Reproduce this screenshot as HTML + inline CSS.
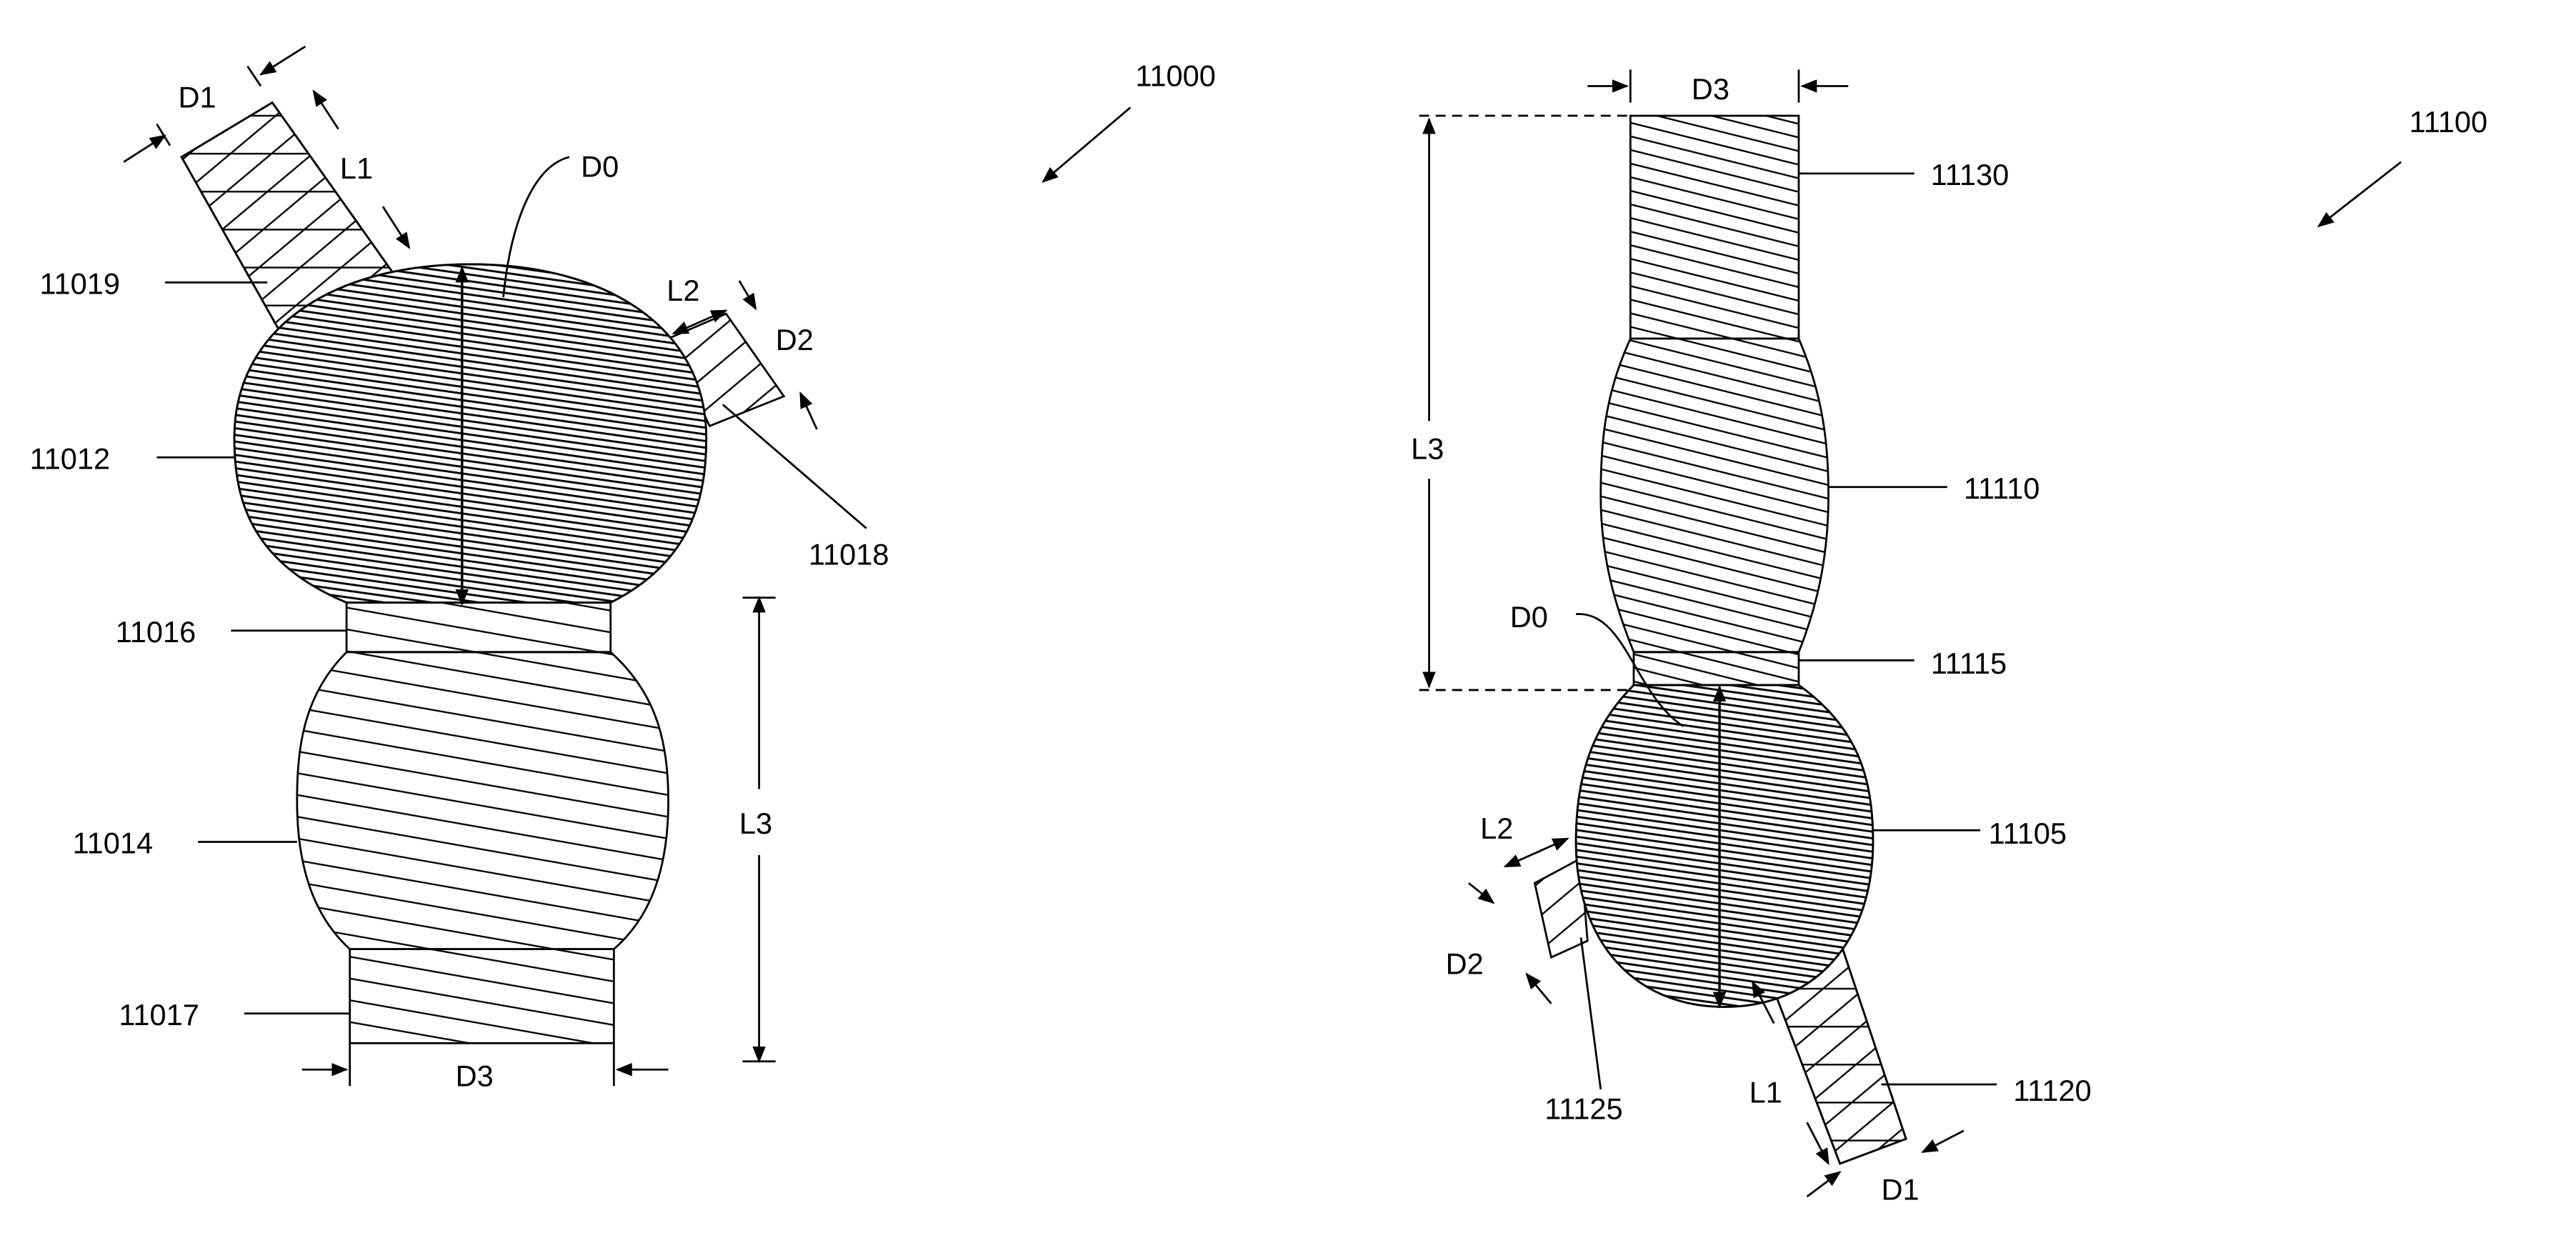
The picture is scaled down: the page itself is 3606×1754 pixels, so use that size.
<!DOCTYPE html>
<html><head><meta charset="utf-8"><style>html,body{margin:0;padding:0;background:#fff}svg{display:block}text{font-family:"Liberation Sans",sans-serif;font-size:18px;fill:#000}</style></head><body>
<svg width="3606" height="1754" viewBox="0 0 1561 759" xmlns="http://www.w3.org/2000/svg">
<defs>
<pattern id="hd" width="40" height="4" patternUnits="userSpaceOnUse" patternTransform="rotate(8)"><line x1="0" y1="1" x2="40" y2="1" stroke="#000" stroke-width="1.3"/></pattern>
<pattern id="hm" width="40" height="13" patternUnits="userSpaceOnUse" patternTransform="rotate(10)"><line x1="0" y1="1" x2="40" y2="1" stroke="#000" stroke-width="1"/></pattern>
<pattern id="hr" width="40" height="8" patternUnits="userSpaceOnUse" patternTransform="rotate(14)"><line x1="0" y1="1" x2="40" y2="1" stroke="#000" stroke-width="1"/></pattern>
<pattern id="ht" width="40" height="16" patternUnits="userSpaceOnUse" patternTransform="rotate(-40)"><line x1="0" y1="1" x2="40" y2="1" stroke="#000" stroke-width="1"/></pattern>
<pattern id="hh" width="40" height="23" patternUnits="userSpaceOnUse"><line x1="0" y1="1" x2="40" y2="1" stroke="#000" stroke-width="1"/></pattern>
<marker id="a" markerWidth="10" markerHeight="8" refX="9" refY="4" orient="auto" markerUnits="userSpaceOnUse"><path d="M0,0L10,4L0,8z" fill="#000"/></marker>
<marker id="s" markerWidth="10" markerHeight="8" refX="1" refY="4" orient="auto" markerUnits="userSpaceOnUse"><path d="M10,0L0,4L10,8z" fill="#000"/></marker>
</defs>
<g stroke="#000" stroke-width="1.2" fill="none">
<!-- LEFT -->
<polygon points="110,95 165,62 238,165 172,205" fill="url(#ht)"/>
<polygon points="110,95 165,62 238,165 172,205" fill="url(#hh)"/>
<polygon points="405,205 440,190 475,240 430,258" fill="url(#ht)"/>
<path d="M210,365 C150,340 142,300 142,265 C142,200 200,160 285,160 C370,160 428,200 428,265 C428,300 420,340 370,365 Z" fill="#fff"/>
<path d="M210,365 C150,340 142,300 142,265 C142,200 200,160 285,160 C370,160 428,200 428,265 C428,300 420,340 370,365 Z" fill="url(#hd)"/>
<rect x="210" y="365" width="160" height="30" fill="url(#hm)"/>
<path d="M210,395 C185,420 180,450 180,485 C180,525 190,555 212,575 L372,575 C395,555 405,525 405,485 C405,450 398,420 370,395 Z" fill="url(#hm)"/>
<rect x="212" y="575" width="160" height="57" fill="url(#hm)"/>
<line x1="280" y1="162" x2="280" y2="366" marker-start="url(#s)" marker-end="url(#a)" stroke-width="1.5"/>
<path d="M305,180 C310,130 325,100 345,95"/>
<line x1="460" y1="362" x2="460" y2="478" marker-start="url(#s)"/>
<line x1="460" y1="518" x2="460" y2="643" marker-end="url(#a)"/>
<line x1="450" y1="362" x2="470" y2="362"/><line x1="450" y1="643" x2="470" y2="643"/>
<line x1="212" y1="632" x2="212" y2="658"/><line x1="372" y1="632" x2="372" y2="658"/>
<line x1="183" y1="648" x2="210" y2="648" marker-end="url(#a)"/><line x1="405" y1="648" x2="374" y2="648" marker-end="url(#a)"/>
<line x1="75" y1="98" x2="100" y2="82" marker-end="url(#a)"/><line x1="95" y1="75" x2="103" y2="88"/>
<line x1="185" y1="28" x2="158" y2="45" marker-end="url(#a)"/><line x1="150" y1="40" x2="158" y2="52"/>
<line x1="205" y1="78" x2="190" y2="55" marker-end="url(#a)"/>
<line x1="232" y1="125" x2="248" y2="150" marker-end="url(#a)"/>
<line x1="408" y1="202" x2="440" y2="188" marker-start="url(#s)" marker-end="url(#a)"/>
<line x1="448" y1="170" x2="458" y2="187" marker-end="url(#a)"/>
<line x1="495" y1="260" x2="485" y2="238" marker-end="url(#a)"/>
<line x1="438" y1="245" x2="525" y2="320"/>
<line x1="100" y1="171" x2="162" y2="171"/><line x1="95" y1="277" x2="142" y2="277"/>
<line x1="140" y1="382" x2="210" y2="382"/><line x1="120" y1="510" x2="180" y2="510"/>
<line x1="148" y1="614" x2="212" y2="614"/>
<line x1="685" y1="65" x2="632" y2="110" marker-end="url(#a)"/>
<!-- RIGHT -->
<polygon points="1075,600 1115,570 1155,690 1115,705" fill="url(#ht)"/>
<polygon points="1075,600 1115,570 1155,690 1115,705" fill="url(#hh)"/>
<polygon points="930,535 958,520 962,570 940,580" fill="url(#ht)"/>
<rect x="988" y="70" width="102" height="135" fill="url(#hr)"/>
<path d="M988,205 C972,240 970,270 970,300 C970,340 980,370 990,395 L1090,395 C1100,370 1108,340 1108,300 C1108,270 1105,240 1090,205 Z" fill="url(#hr)"/>
<rect x="990" y="395" width="100" height="20" fill="url(#hr)"/>
<path d="M990,415 C965,440 955,470 955,510 C955,570 990,610 1045,610 C1100,610 1135,570 1135,510 C1135,470 1125,440 1090,415 Z" fill="#fff"/>
<path d="M990,415 C965,440 955,470 955,510 C955,570 990,610 1045,610 C1100,610 1135,570 1135,510 C1135,470 1125,440 1090,415 Z" fill="url(#hd)"/>
<line x1="860" y1="70" x2="988" y2="70" stroke-dasharray="6,4"/>
<line x1="860" y1="418" x2="990" y2="418" stroke-dasharray="6,4"/>
<line x1="866" y1="72" x2="866" y2="255" marker-start="url(#s)"/>
<line x1="866" y1="290" x2="866" y2="416" marker-end="url(#a)"/>
<line x1="1042" y1="416" x2="1042" y2="610" marker-start="url(#s)" marker-end="url(#a)" stroke-width="1.5"/>
<path d="M955,372 C985,370 990,420 1020,440"/>
<line x1="962" y1="52" x2="986" y2="52" marker-end="url(#a)"/><line x1="988" y1="42" x2="988" y2="62"/>
<line x1="1120" y1="52" x2="1092" y2="52" marker-end="url(#a)"/><line x1="1090" y1="42" x2="1090" y2="62"/>
<line x1="1090" y1="105" x2="1160" y2="105"/><line x1="1108" y1="295" x2="1180" y2="295"/>
<line x1="1090" y1="400" x2="1160" y2="400"/><line x1="1135" y1="503" x2="1200" y2="503"/>
<line x1="1140" y1="657" x2="1210" y2="657"/>
<line x1="958" y1="568" x2="970" y2="660"/>
<line x1="912" y1="525" x2="950" y2="508" marker-start="url(#s)" marker-end="url(#a)"/>
<line x1="890" y1="535" x2="905" y2="547" marker-end="url(#a)"/>
<line x1="925" y1="590" x2="940" y2="608" marker-start="url(#s)"/>
<line x1="1075" y1="620" x2="1062" y2="595" marker-end="url(#a)"/>
<line x1="1095" y1="680" x2="1108" y2="705" marker-end="url(#a)"/>
<line x1="1095" y1="725" x2="1115" y2="710" marker-end="url(#a)"/>
<line x1="1190" y1="685" x2="1165" y2="698" marker-end="url(#a)"/>
<line x1="1455" y1="98" x2="1405" y2="137" marker-end="url(#a)"/>
</g>
<text x="108" y="65">D1</text><text x="206" y="108">L1</text><text x="352" y="107">D0</text>
<text x="24" y="178">11019</text><text x="18" y="284">11012</text><text x="404" y="182">L2</text>
<text x="470" y="212">D2</text><text x="490" y="342">11018</text><text x="70" y="389">11016</text>
<text x="44" y="517">11014</text><text x="72" y="621">11017</text><text x="276" y="658">D3</text>
<text x="448" y="505">L3</text><text x="688" y="52">11000</text>
<text x="1025" y="60">D3</text><text x="1170" y="112">11130</text><text x="855" y="278">L3</text>
<text x="1190" y="302">11110</text><text x="915" y="380">D0</text><text x="1170" y="408">11115</text>
<text x="1205" y="511">11105</text><text x="897" y="508">L2</text><text x="876" y="590">D2</text>
<text x="936" y="678">11125</text><text x="1060" y="668">L1</text><text x="1220" y="667">11120</text>
<text x="1140" y="727">D1</text><text x="1460" y="80">11100</text>
</svg>
</body></html>
